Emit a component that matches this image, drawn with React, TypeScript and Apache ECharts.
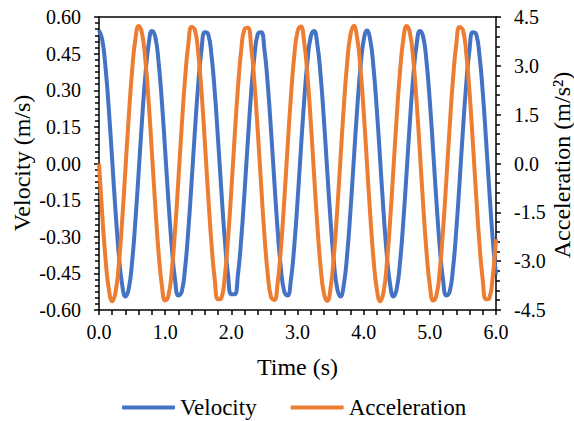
import React, { useEffect, useRef } from "react";
import * as echarts from "echarts";

const timeS = [
  0.0, 0.05, 0.1, 0.15, 0.2, 0.25, 0.3, 0.35, 0.4, 0.45,
  0.5, 0.55, 0.6, 0.65, 0.7, 0.75, 0.8, 0.85, 0.9, 0.95,
  1.0, 1.05, 1.1, 1.15, 1.2, 1.25, 1.3, 1.35, 1.4, 1.45,
  1.5, 1.55, 1.6, 1.65, 1.7, 1.75, 1.8, 1.85, 1.9, 1.95,
  2.0, 2.05, 2.1, 2.15, 2.2, 2.25, 2.3, 2.35, 2.4, 2.45,
  2.5, 2.55, 2.6, 2.65, 2.7, 2.75, 2.8, 2.85, 2.9, 2.95,
  3.0, 3.05, 3.1, 3.15, 3.2, 3.25, 3.3, 3.35, 3.4, 3.45,
  3.5, 3.55, 3.6, 3.65, 3.7, 3.75, 3.8, 3.85, 3.9, 3.95,
  4.0, 4.05, 4.1, 4.15, 4.2, 4.25, 4.3, 4.35, 4.4, 4.45,
  4.5, 4.55, 4.6, 4.65, 4.7, 4.75, 4.8, 4.85, 4.9, 4.95,
  5.0, 5.05, 5.1, 5.15, 5.2, 5.25, 5.3, 5.35, 5.4, 5.45,
  5.5, 5.55, 5.6, 5.65, 5.7, 5.75, 5.8, 5.85, 5.9, 5.95,
  6.0,
];

const velocity = [
  0.545, 0.505, 0.389, 0.216, 0.011, -0.196, -0.374, -0.496, -0.545, -0.512,
  -0.404, -0.235, -0.032, 0.176, 0.359, 0.487, 0.543, 0.519, 0.417, 0.254,
  0.053, -0.156, -0.342, -0.477, -0.541, -0.525, -0.431, -0.273, -0.074, 0.136,
  0.325, 0.467, 0.538, 0.53, 0.443, 0.291, 0.095, -0.115, -0.308, -0.455,
  -0.535, -0.535, -0.455, -0.308, -0.115, 0.095, 0.291, 0.443, 0.53, 0.538,
  0.467, 0.325, 0.136, -0.074, -0.273, -0.431, -0.525, -0.541, -0.477, -0.342,
  -0.156, 0.053, 0.254, 0.417, 0.519, 0.543, 0.487, 0.359, 0.176, -0.032,
  -0.235, -0.404, -0.512, -0.545, -0.496, -0.374, -0.196, 0.011, 0.216, 0.389,
  0.505, 0.545, 0.505, 0.389, 0.216, 0.011, -0.196, -0.374, -0.496, -0.545,
  -0.512, -0.404, -0.235, -0.032, 0.176, 0.359, 0.487, 0.543, 0.519, 0.417,
  0.254, 0.053, -0.156, -0.342, -0.477, -0.541, -0.525, -0.431, -0.273, -0.074,
  0.136, 0.325, 0.467, 0.538, 0.53, 0.443, 0.291, 0.095, -0.115, -0.308,
  -0.455,
];

const acceleration = [
  0, -1.6, -2.96, -3.88, -4.23, -3.95, -3.08, -1.75, -0.16, 1.45,
  2.84, 3.82, 4.22, 4.0, 3.19, 1.9, 0.33, -1.29, -2.72, -3.74,
  -4.21, -4.05, -3.29, -2.04, -0.49, 1.13, 2.59, 3.66, 4.19, 4.1,
  3.39, 2.19, 0.65, -0.98, -2.46, -3.58, -4.17, -4.13, -3.49, -2.32,
  -0.82, 0.82, 2.32, 3.49, 4.13, 4.17, 3.58, 2.46, 0.98, -0.65,
  -2.19, -3.39, -4.1, -4.19, -3.66, -2.59, -1.13, 0.49, 2.04, 3.29,
  4.05, 4.21, 3.74, 2.72, 1.29, -0.33, -1.9, -3.19, -4.0, -4.22,
  -3.82, -2.84, -1.45, 0.16, 1.75, 3.08, 3.95, 4.23, 3.88, 2.96,
  1.6, 0, -1.6, -2.96, -3.88, -4.23, -3.95, -3.08, -1.75, -0.16,
  1.45, 2.84, 3.82, 4.22, 4.0, 3.19, 1.9, 0.33, -1.29, -2.72,
  -3.74, -4.21, -4.05, -3.29, -2.04, -0.49, 1.13, 2.59, 3.66, 4.19,
  4.1, 3.39, 2.19, 0.65, -0.98, -2.46, -3.58, -4.17, -4.13, -3.49,
  -2.32,
];

const seriesNames = ["Velocity", "Acceleration"];
const axisTitles = ["Time (s)", "Velocity (m/s)", "Acceleration (m/s²)"];
const colors = ["#4472C4", "#ED7D31"];
const FONT = "'Liberation Serif', 'Times New Roman', serif";

export default function App() {
  const ref = useRef<HTMLDivElement>(null);

  useEffect(() => {
    document.body.style.margin = "0";
    if (!ref.current) return;
    const chart = echarts.init(ref.current, null, { renderer: "svg" });

    const axisLine = { show: true, onZero: false, lineStyle: { color: "#000", width: 1.5 } };
    const tickStyle = { color: "#000", width: 1.5 };
    const nameStyle = { fontFamily: FONT, fontSize: 24, color: "#000" };

    chart.setOption({
      animation: false,
      backgroundColor: "#fff",
      textStyle: { fontFamily: FONT, color: "#000" },
      grid: {
        left: 99,
        right: 78,
        top: 17,
        bottom: 111,
        containLabel: false,
        outerBoundsMode: "none",
      },
      legend: {
        data: seriesNames,
        top: 391,
        left: 117,
        icon: "roundRect",
        itemWidth: 53,
        itemHeight: 4,
        itemGap: 34,
        textStyle: { fontFamily: FONT, fontSize: 23, color: "#000" },
      },
      graphic: [
        {
          type: "text",
          x: 22,
          y: 163,
          rotation: Math.PI / 2,
          style: {
            text: axisTitles[1],
            fontFamily: FONT,
            fontSize: 24,
            fill: "#000",
            align: "center",
            verticalAlign: "middle",
          },
        },
        {
          type: "text",
          x: 562,
          y: 165,
          rotation: Math.PI / 2,
          style: {
            text: axisTitles[2],
            fontFamily: FONT,
            fontSize: 24,
            fill: "#000",
            align: "center",
            verticalAlign: "middle",
          },
        },
      ],
      xAxis: [
        {
          type: "value",
          min: 0,
          max: 6,
          interval: 1,
          name: axisTitles[0],
          nameLocation: "middle",
          nameGap: 45,
          nameTextStyle: nameStyle,
          axisLine: axisLine,
          axisTick: { show: true, inside: false, length: 5, lineStyle: tickStyle },
          minorTick: { show: true, splitNumber: 5, length: 5, lineStyle: tickStyle },
          splitLine: { show: false },
          axisLabel: {
            fontFamily: FONT,
            fontSize: 20,
            color: "#000",
            margin: 12,
            formatter: (v: number) => v.toFixed(1),
          },
        },
        {
          type: "value",
          position: "top",
          min: 0,
          max: 6,
          axisLine: axisLine,
          axisTick: { show: false },
          axisLabel: { show: false },
          splitLine: { show: false },
        },
      ],
      yAxis: [
        {
          type: "value",
          min: -0.6,
          max: 0.6,
          interval: 0.15,
          axisLine: axisLine,
          axisTick: { show: true, inside: false, length: 5, lineStyle: tickStyle },
          minorTick: { show: true, splitNumber: 6, length: 4, lineStyle: tickStyle },
          splitLine: { show: false },
          axisLabel: {
            fontFamily: FONT,
            fontSize: 20,
            color: "#000",
            margin: 18,
            formatter: (v: number) => v.toFixed(2),
          },
        },
        {
          type: "value",
          position: "right",
          min: -4.5,
          max: 4.5,
          interval: 1.5,
          axisLine: axisLine,
          axisTick: { show: true, inside: false, length: 5, lineStyle: tickStyle },
          minorTick: { show: true, splitNumber: 5, length: 4, lineStyle: tickStyle },
          splitLine: { show: false },
          axisLabel: {
            fontFamily: FONT,
            fontSize: 20,
            color: "#000",
            margin: 18,
            formatter: (v: number) => v.toFixed(1),
          },
        },
      ],
      series: [
        {
          name: seriesNames[0],
          type: "line",
          xAxisIndex: 0,
          yAxisIndex: 0,
          data: timeS.map((t, i) => [t, velocity[i]]),
          smooth: true,
          showSymbol: false,
          lineStyle: { color: colors[0], width: 4 },
          itemStyle: { color: colors[0] },
        },
        {
          name: seriesNames[1],
          type: "line",
          xAxisIndex: 0,
          yAxisIndex: 1,
          data: timeS.map((t, i) => [t, acceleration[i]]),
          smooth: true,
          showSymbol: false,
          lineStyle: { color: colors[1], width: 4 },
          itemStyle: { color: colors[1] },
        },
      ],
    });

    return () => chart.dispose();
  }, []);

  return <div ref={ref} style={{ width: 574, height: 421 }} />;
}
